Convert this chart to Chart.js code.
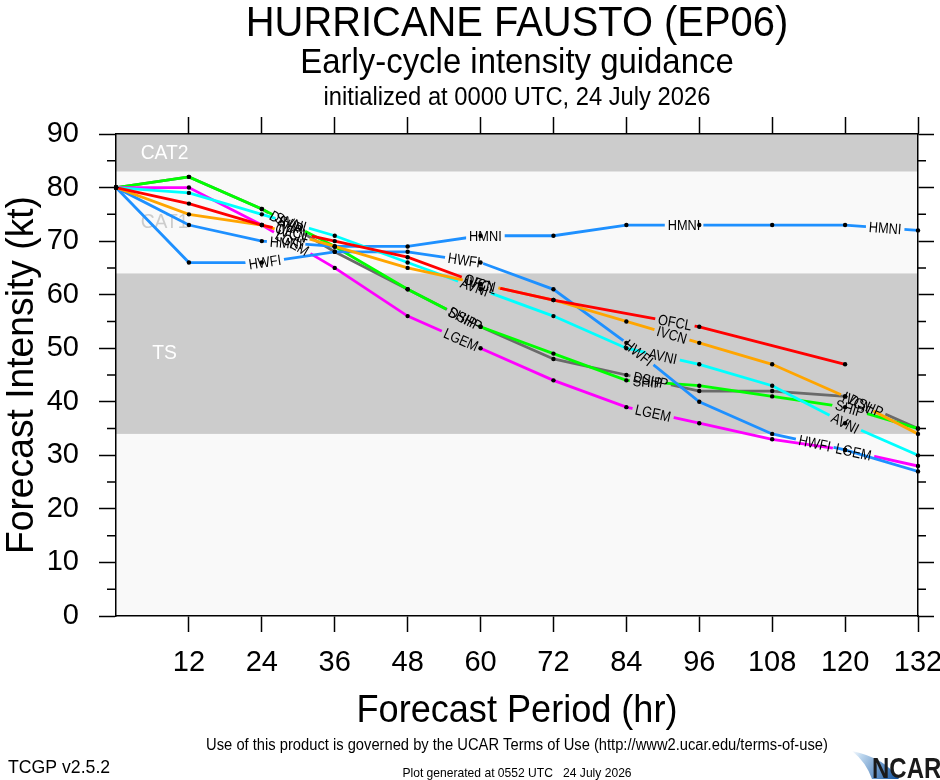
<!DOCTYPE html>
<html>
<head>
<meta charset="utf-8">
<script src="https://cdn.jsdelivr.net/npm/chart.js@4.4.0/dist/chart.umd.min.js"></script>
<style>
  html, body { margin: 0; padding: 0; background: #fff; }
  canvas { display: block; }
</style>
</head>
<body>
<canvas id="myChart" width="940" height="780"></canvas>
<script>
// forecast hours and axis ticks
const hours = [0, 12, 24, 36, 48, 60, 72, 84, 96, 108, 120, 132];
const xTicks = [12, 24, 36, 48, 60, 72, 84, 96, 108, 120, 132];
const yTicks = [0, 10, 20, 30, 40, 50, 60, 70, 80, 90];

// intensity (kt) per model, null = no forecast at that hour
const ofcl = [80, 77, 73, 70, 67, 62, 59, null, 54, null, 47, null];
const ivcn = [80, 75, 73, 69, 65, 62, 59, 55, 51, 47, 41, 34];
const avni = [80, 79, 75, 71, 66, 61, 56, 50, 47, 43, 36, 30];
const hwfi = [80, 66, 66, 68, 68, 66, 61, 51, 40, 34, 31, 27];
const hmni = [80, 73, 70, 69, 69, 71, 71, 73, 73, 73, 73, 72];
const lgem = [80, 80, 73, 65, 56, 50, 44, 39, 36, 33, 31, 28];
const ship = [80, 82, 76, 69, 61, 54, 49, 44, 43, 41, 39, 35];
const dshp = [80, 82, 76, 68, 61, 54, 48, 45, 42, 42, 41, 35];

const models = ["OFCL", "IVCN", "AVNI", "HWFI", "HMNI", "LGEM", "SHIP", "DSHP"];
const series = [ofcl, ivcn, avni, hwfi, hmni, lgem, ship, dshp];
const colors = ["#ff0000", "#ffa500", "#00ffff", "#1e90ff", "#1e90ff", "#ff00ff", "#00ff00", "#6a6a6a"];

// intensity bands (kt)
const bands = [
  { name: "TS", lo: 34, hi: 64 },
  { name: "CAT1", lo: 64, hi: 83 },
  { name: "CAT2", lo: 83, hi: 96 },
];

// where the model names sit along each line (hour)
const labelHours = [
  [29, 60, 92],
  [29, 60, 91.5, 122],
  [29, 59, 90, 120],
  [24.5, 57.3, 86, 115],
  [28, 60.8, 93.5, 126.6],
  [29, 56.8, 88.4, 121.4],
  [28.5, 57, 87.5, 120.8],
  [28, 57.5, 88, 123.5],
];

const FONT = '"Liberation Sans", Arial, Helvetica, sans-serif';
const bandColor = { TS: "#cccccc", CAT1: "#f9f9f9", CAT2: "#cccccc" };
const bandText = { TS: "#ffffff", CAT1: "#cccccc", CAT2: "#ffffff" };

function spots(chart, index) {
  const meta = chart.getDatasetMeta(index);
  const pts = meta.data.filter((p, i) => series[index][i] !== null);
  const xs = chart.scales.x;
  const out = [];
  labelHours[index].forEach((h) => {
    const px = xs.getPixelForValue(h);
    for (let k = 0; k < pts.length - 1; k++) {
      const a = pts[k], b = pts[k + 1];
      if (px >= a.x && px <= b.x) {
        const t = (px - a.x) / (b.x - a.x);
        out.push({ x: px, y: a.y + t * (b.y - a.y), ang: Math.atan2(b.y - a.y, b.x - a.x) });
        break;
      }
    }
  });
  return out;
}

// condensed text, a bit like the NCL Helvetica
function narrowText(ctx, txt, x, y, sx) {
  ctx.save();
  ctx.translate(x, y);
  ctx.scale(sx, 1);
  ctx.fillText(txt, 0, 0);
  ctx.restore();
}

const guidancePlugin = {
  id: "guidance",
  beforeDraw(chart) {
    const ctx = chart.ctx, a = chart.chartArea, ys = chart.scales.y, xs = chart.scales.x;
    ctx.save();
    ctx.fillStyle = "#ffffff";
    ctx.fillRect(0, 0, chart.width, chart.height);
    ctx.fillStyle = "#f9f9f9";
    ctx.fillRect(a.left, a.top, a.right - a.left, a.bottom - a.top);
    ctx.beginPath();
    ctx.rect(a.left, a.top, a.right - a.left, a.bottom - a.top);
    ctx.clip();
    bands.forEach((b) => {
      const top = ys.getPixelForValue(b.hi), bot = ys.getPixelForValue(b.lo);
      ctx.fillStyle = bandColor[b.name];
      ctx.fillRect(a.left, top, a.right - a.left, bot - top);
    });
    ctx.font = "21px " + FONT;
    ctx.textAlign = "center";
    ctx.textBaseline = "middle";
    bands.forEach((b) => {
      const mid = (b.lo + Math.min(b.hi, ys.max)) / 2;
      ctx.fillStyle = bandText[b.name];
      narrowText(ctx, b.name, xs.getPixelForValue(8), ys.getPixelForValue(mid), 0.92);
    });
    ctx.restore();
  },
  beforeDatasetDraw(chart, args) {
    const ctx = chart.ctx;
    ctx.save();
    ctx.font = "15px " + FONT;
    const w = ctx.measureText(models[args.index]).width * 0.85 + 6, h = 13;
    ctx.beginPath();
    ctx.rect(0, 0, chart.width, chart.height);
    spots(chart, args.index).forEach((s) => {
      const c = Math.cos(s.ang), sn = Math.sin(s.ang);
      [[-w / 2, -h / 2], [w / 2, -h / 2], [w / 2, h / 2], [-w / 2, h / 2]].forEach(([u, v], k) => {
        const X = s.x + u * c - v * sn, Y = s.y + u * sn + v * c;
        if (k) ctx.lineTo(X, Y); else ctx.moveTo(X, Y);
      });
      ctx.closePath();
    });
    ctx.clip("evenodd");
  },
  afterDatasetDraw(chart) {
    chart.ctx.restore();
  },
  afterDatasetsDraw(chart) {
    const ctx = chart.ctx;
    ctx.save();
    // dots on every forecast point
    ctx.fillStyle = "#000";
    series.forEach((vals, i) => {
      chart.getDatasetMeta(i).data.forEach((p, j) => {
        if (vals[j] === null) return;
        ctx.beginPath();
        ctx.arc(p.x, p.y, 2.2, 0, Math.PI * 2);
        ctx.fill();
      });
    });
    // model names along the lines
    ctx.font = "15px " + FONT;
    ctx.textAlign = "center";
    ctx.textBaseline = "middle";
    series.forEach((vals, i) => {
      spots(chart, i).forEach((s) => {
        ctx.save();
        ctx.translate(s.x, s.y);
        ctx.rotate(s.ang);
        ctx.scale(0.85, 1);
        ctx.fillText(models[i], 0, 1);
        ctx.restore();
      });
    });
    ctx.restore();
  },
  afterDraw(chart) {
    const ctx = chart.ctx, a = chart.chartArea, ys = chart.scales.y;
    ctx.save();
    // minor ticks every 5 kt
    ctx.strokeStyle = "#000";
    ctx.lineWidth = 1.5;
    for (let v = 5; v < 90; v += 10) {
      const y = ys.getPixelForValue(v);
      ctx.beginPath();
      ctx.moveTo(a.left - 9, y); ctx.lineTo(a.left, y);
      ctx.moveTo(a.right, y); ctx.lineTo(a.right + 8, y);
      ctx.stroke();
    }
    ctx.fillStyle = "#000";
    ctx.textAlign = "center";
    ctx.textBaseline = "alphabetic";
    const cx = (a.left + a.right) / 2;
    ctx.font = "42px " + FONT;
    narrowText(ctx, "HURRICANE FAUSTO (EP06)", cx, 36, 0.95);
    ctx.font = "35px " + FONT;
    narrowText(ctx, "Early-cycle intensity guidance", cx, 73, 0.94);
    ctx.font = "25px " + FONT;
    narrowText(ctx, "initialized at 0000 UTC, 24 July 2026", cx, 105, 0.95);
    ctx.font = "38px " + FONT;
    narrowText(ctx, "Forecast Period (hr)", cx, 722, 0.95);
    ctx.save();
    ctx.translate(33, (a.top + a.bottom) / 2);
    ctx.rotate(-Math.PI / 2);
    ctx.scale(0.98, 1);
    ctx.fillText("Forecast Intensity (kt)", 0, 0);
    ctx.restore();
    ctx.font = "16px " + FONT;
    narrowText(ctx, "Use of this product is governed by the UCAR Terms of Use (http://www2.ucar.edu/terms-of-use)", cx, 750, 0.92);
    ctx.font = "13px " + FONT;
    narrowText(ctx, "Plot generated at 0552 UTC   24 July 2026", cx, 777, 0.93);
    ctx.textAlign = "left";
    ctx.font = "19px " + FONT;
    narrowText(ctx, "TCGP v2.5.2", 8, 773, 0.93);
    // NCAR logo
    const g = ctx.createLinearGradient(852, 750, 900, 780);
    g.addColorStop(0, "#ffffff");
    g.addColorStop(0.2, "#bcd6ee");
    g.addColorStop(1, "#0a4c9a");
    ctx.fillStyle = g;
    ctx.beginPath();
    ctx.moveTo(852, 751);
    ctx.quadraticCurveTo(885, 758, 899, 779);
    ctx.lineTo(872, 779);
    ctx.quadraticCurveTo(866, 762, 852, 751);
    ctx.fill();
    ctx.fillStyle = "#1a1a1a";
    ctx.font = "bold 30px " + FONT;
    narrowText(ctx, "NCAR", 872, 778, 0.8);
    ctx.restore();
  },
};

const datasets = series.map((vals, i) => ({
  label: models[i],
  data: hours.map((h, j) => ({ x: h, y: vals[j] })),
  borderColor: colors[i],
  borderWidth: 2.8,
  pointRadius: 0,
  tension: 0,
  spanGaps: true,
  fill: false,
}));

const tickFont = { family: FONT, size: 29 };

var ctx = document.getElementById("myChart").getContext("2d");
var myChart = new Chart(ctx, {
  type: "line",
  data: { datasets: datasets },
  options: {
    responsive: false,
    animation: false,
    devicePixelRatio: 1,
    layout: { padding: 0 },
    plugins: { legend: { display: false }, tooltip: { enabled: false } },
    scales: {
      x: {
        type: "linear", position: "bottom", min: 0, max: 132,
        afterBuildTicks: (s) => { s.ticks = xTicks.map((v) => ({ value: v })); },
        ticks: { font: tickFont, color: "#000", padding: 14, maxRotation: 0, autoSkip: false },
        grid: { drawOnChartArea: false, drawTicks: true, tickLength: 16, tickColor: "#000", tickWidth: 1.5 },
        border: { display: true, color: "#000", width: 1.5 },
        afterFit: (s) => { s.height = 164; s.paddingLeft = 0; s.paddingRight = 0; },
      },
      x2: {
        type: "linear", position: "top", min: 0, max: 132,
        afterBuildTicks: (s) => { s.ticks = xTicks.map((v) => ({ value: v })); },
        ticks: { display: false },
        grid: { drawOnChartArea: false, drawTicks: true, tickLength: 17, tickColor: "#000", tickWidth: 1.5 },
        border: { display: true, color: "#000", width: 1.5 },
        afterFit: (s) => { s.height = 134; s.paddingLeft = 0; s.paddingRight = 0; },
      },
      y: {
        type: "linear", position: "left", min: 0, max: 90,
        afterBuildTicks: (s) => { s.ticks = yTicks.map((v) => ({ value: v })); },
        ticks: { font: tickFont, color: "#000", padding: 20 },
        grid: { drawOnChartArea: false, drawTicks: true, tickLength: 17, tickColor: "#000", tickWidth: 1.5 },
        border: { display: true, color: "#000", width: 1.5 },
        afterFit: (s) => { s.width = 116; s.paddingTop = 0; s.paddingBottom = 0; },
      },
      y2: {
        type: "linear", position: "right", min: 0, max: 90,
        afterBuildTicks: (s) => { s.ticks = yTicks.map((v) => ({ value: v })); },
        ticks: { display: false },
        grid: { drawOnChartArea: false, drawTicks: true, tickLength: 16, tickColor: "#000", tickWidth: 1.5 },
        border: { display: true, color: "#000", width: 1.5 },
        afterFit: (s) => { s.width = 22; s.paddingTop = 0; s.paddingBottom = 0; },
      },
    },
  },
  plugins: [guidancePlugin],
});
</script>
</body>
</html>
